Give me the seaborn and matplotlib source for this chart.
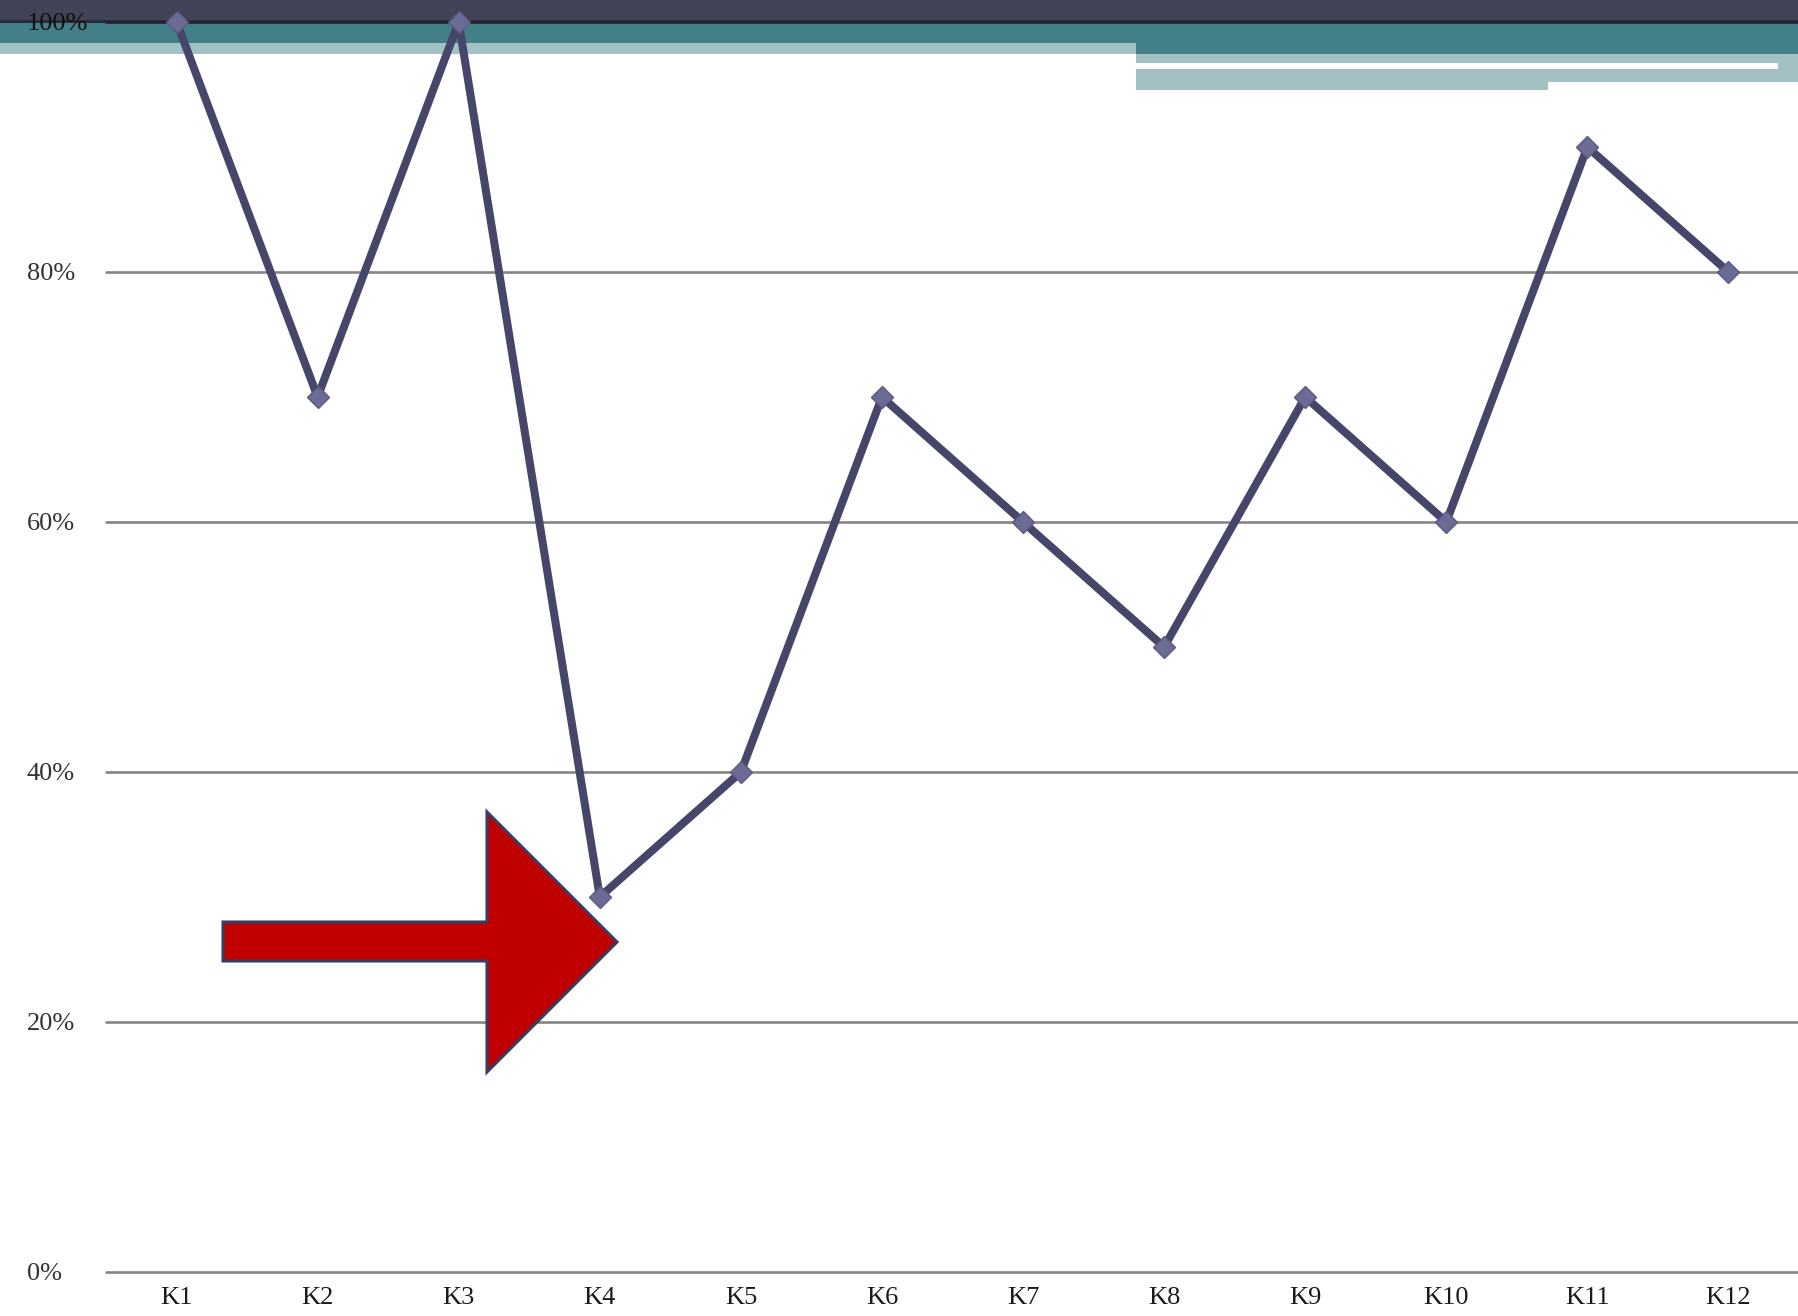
import matplotlib
matplotlib.use("Agg")
import matplotlib.pyplot as plt
from matplotlib.patches import Rectangle, Polygon
import seaborn as sns
import pandas as pd

categories = ["K1", "K2", "K3", "K4", "K5", "K6", "K7", "K8", "K9", "K10", "K11", "K12"]
values = [100, 70, 100, 30, 40, 70, 60, 50, 70, 60, 90, 80]
y_ticks = [0, 20, 40, 60, 80, 100]
y_tick_labels = ["0%", "20%", "40%", "60%", "80%", "100%"]

W, H = 1799, 1316
sns.set_theme(style="white")
plt.rcParams["font.family"] = ["Liberation Serif", "DejaVu Serif"]

fig = plt.figure(figsize=(W / 100, H / 100), dpi=100)
fig.patch.set_facecolor("white")


def frect(x0, y0, x1, y1, color, z=0):
    # pixel coords from top-left
    fig.patches.append(Rectangle((x0 / W, 1 - y1 / H), (x1 - x0) / W, (y1 - y0) / H,
                                 transform=fig.transFigure, facecolor=color,
                                 edgecolor="none", zorder=z))


dark = "#434358"
teal = "#437f86"
light = "#a3c0c3"
frect(0, 0, W, 21, dark)
frect(0, 20, W, 23, "#2b2b3a")
frect(0, 23, W, 43, teal)
frect(1136, 43, W, 54, teal)
frect(0, 43, 1136, 54, light)
frect(1136, 54, W, 63, light)
frect(1778, 63, W, 69, light)
frect(1136, 69, 1548, 90, light)
frect(1548, 69, W, 82, light)

ax = fig.add_axes([106 / W, 44 / H, (W - 106) / W, (1272 - 22) / H])
ax.set_zorder(5)
ax.set_facecolor("none")
ax.patch.set_alpha(0)

df = pd.DataFrame({"cat": categories, "val": values})
sns.lineplot(data=df, x="cat", y="val", sort=False, ax=ax, color="#46466a",
             linewidth=5.8, marker="D", markersize=11, markerfacecolor="#6b6b94",
             markeredgecolor="#5a5a82", markeredgewidth=1, zorder=5, clip_on=False)

ax.set_xlim(-0.5, len(categories) - 0.5)
ax.set_ylim(0, 100)
ax.set_yticks(y_ticks)
ax.set_yticklabels(y_tick_labels)
for t in ax.get_yticks():
    ax.axhline(t, color="#858585" if t < 100 else "#222230", linewidth=1.9,
               zorder=1, clip_on=False)
ax.grid(False)
for s in ax.spines.values():
    s.set_visible(False)
ax.tick_params(axis="y", length=0, pad=57, labelsize=19, labelcolor="#333333")
for lbl in ax.get_yticklabels():
    lbl.set_horizontalalignment("left")
ax.get_yticklabels()[-1].set_color("#111111")
ax.tick_params(axis="x", length=0, pad=11, labelsize=19, labelcolor="#1a1a1a")
ax.set_xlabel("")
ax.set_ylabel("")

# red arrow (pixel coords from top-left)
arrow_px = [(223, 922), (487, 922), (487, 812), (617, 942), (487, 1072), (487, 961), (223, 961)]
arrow = Polygon([(x / W, 1 - y / H) for x, y in arrow_px], closed=True,
                transform=fig.transFigure, facecolor="#c00000", edgecolor="#3a3a62",
                linewidth=2.2, zorder=10)
fig.patches.append(arrow)

fig.savefig("out.png", dpi=100, facecolor="white")
